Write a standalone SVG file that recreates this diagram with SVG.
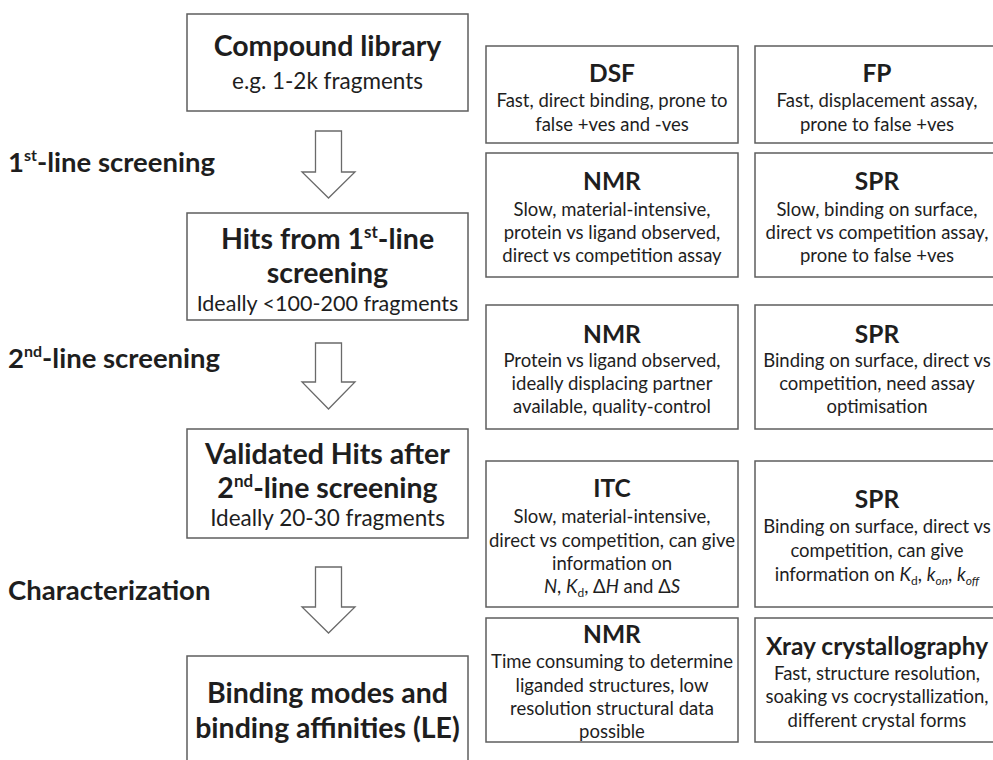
<svg xmlns="http://www.w3.org/2000/svg" width="993" height="760" viewBox="0 0 993 760">
<style>
text{font-family:Lato,"Open Sans","Liberation Sans",sans-serif;fill:#1e1e1e;text-anchor:middle}
.box{fill:#fff;stroke:#5e5e5e;stroke-width:1.5}
.arrow{fill:#fff;stroke:#6a6a6a;stroke-width:1.3}
.lt{font-size:28.5px;font-weight:700}
.ls{font-size:22.5px}
.lab{font-size:27.5px;font-weight:700;text-anchor:start}
.rt{font-size:24.5px;font-weight:700}
.rb{font-size:18.5px}
.i{font-style:italic}
</style>
<rect width="993" height="760" fill="#fff"/>

<g id="labels">
<text class="lab" x="8" y="172">1<tspan font-size="16" dy="-11">st</tspan><tspan dy="11">-line screening</tspan></text>
<text class="lab" x="8" y="368">2<tspan font-size="16" dy="-11">nd</tspan><tspan dy="11">-line screening</tspan></text>
<text class="lab" x="8" y="600">Characterization</text>
</g>

<g id="connectors">
<polygon class="arrow" points="315.5,131 341.5,131 341.5,172 355,172 328.5,198 302,172 315.5,172"/>
<polygon class="arrow" points="315.5,343 341.5,343 341.5,382 355,382 328.5,409 302,382 315.5,382"/>
<polygon class="arrow" points="315.5,567 341.5,567 341.5,607 355,607 328.5,633 302,607 315.5,607"/>
</g>

<g id="compound-library">
<rect class="box" x="187" y="14" width="281" height="97"/>
<text class="lt" x="327.5" y="56">Compound library</text>
<text class="ls" x="327.5" y="89">e.g. 1-2k fragments</text>
</g>

<g id="hits">
<rect class="box" x="187" y="213" width="281" height="107"/>
<text class="lt" x="327.5" y="249">Hits from 1<tspan font-size="17" dy="-11">st</tspan><tspan dy="11">-line</tspan></text>
<text class="lt" x="327.5" y="283">screening</text>
<text class="ls" x="327.5" y="311" font-size="21.5" style="font-size:21.5px">Ideally &lt;100-200 fragments</text>
</g>

<g id="validated">
<rect class="box" x="187" y="429" width="281" height="109"/>
<text class="lt" x="327.5" y="464">Validated Hits after</text>
<text class="lt" x="327.5" y="498">2<tspan font-size="17" dy="-11">nd</tspan><tspan dy="11">-line screening</tspan></text>
<text class="ls" x="327.5" y="526">Ideally 20-30 fragments</text>
</g>

<g id="binding">
<rect class="box" x="187" y="656" width="281" height="110"/>
<text class="lt" x="327.5" y="703">Binding modes and</text>
<text class="lt" x="327.5" y="738">binding affinities (LE)</text>
</g>

<g id="dsf">
<rect class="box" x="486" y="46" width="252" height="97"/>
<text class="rt" x="612" y="82">DSF</text>
<text class="rb" x="612" y="107">Fast, direct binding, prone to</text>
<text class="rb" x="612" y="131">false +ves and -ves</text>
</g>

<g id="fp">
<rect class="box" x="755" y="46" width="245" height="97"/>
<text class="rt" x="877" y="82">FP</text>
<text class="rb" x="877" y="107">Fast, displacement assay,</text>
<text class="rb" x="877" y="131">prone to false +ves</text>
</g>

<g id="nmr1">
<rect class="box" x="486" y="153" width="252" height="124"/>
<text class="rt" x="612" y="190">NMR</text>
<text class="rb" x="612" y="216">Slow, material-intensive,</text>
<text class="rb" x="612" y="239">protein vs ligand observed,</text>
<text class="rb" x="612" y="262">direct vs competition assay</text>
</g>

<g id="spr1">
<rect class="box" x="755" y="153" width="245" height="124"/>
<text class="rt" x="877" y="190">SPR</text>
<text class="rb" x="877" y="216">Slow, binding on surface,</text>
<text class="rb" x="877" y="239">direct vs competition assay,</text>
<text class="rb" x="877" y="262">prone to false +ves</text>
</g>

<g id="nmr2">
<rect class="box" x="486" y="305" width="252" height="124"/>
<text class="rt" x="612" y="343">NMR</text>
<text class="rb" x="612" y="367">Protein vs ligand observed,</text>
<text class="rb" x="612" y="390">ideally displacing partner</text>
<text class="rb" x="612" y="413">available, quality-control</text>
</g>

<g id="spr2">
<rect class="box" x="755" y="305" width="245" height="124"/>
<text class="rt" x="877" y="343">SPR</text>
<text class="rb" x="877" y="367">Binding on surface, direct vs</text>
<text class="rb" x="877" y="390">competition, need assay</text>
<text class="rb" x="877" y="413">optimisation</text>
</g>

<g id="itc">
<rect class="box" x="486" y="461" width="252" height="146"/>
<text class="rt" x="612" y="497">ITC</text>
<text class="rb" x="612" y="523">Slow, material-intensive,</text>
<text class="rb" x="612" y="547">direct vs competition, can give</text>
<text class="rb" x="612" y="570">information on</text>
<text class="rb" x="612" y="593"><tspan class="i">N</tspan>, <tspan class="i">K</tspan><tspan font-size="12" dy="4">d</tspan><tspan dy="-4">, Δ</tspan><tspan class="i">H</tspan> and Δ<tspan class="i">S</tspan></text>
</g>

<g id="spr3">
<rect class="box" x="755" y="461" width="245" height="146"/>
<text class="rt" x="877" y="508">SPR</text>
<text class="rb" x="877" y="533">Binding on surface, direct vs</text>
<text class="rb" x="877" y="557">competition, can give</text>
<text class="rb" x="877" y="581">information on <tspan class="i">K</tspan><tspan font-size="12" dy="4">d</tspan><tspan dy="-4">, </tspan><tspan class="i">k</tspan><tspan class="i" font-size="12" dy="4">on</tspan><tspan dy="-4">, </tspan><tspan class="i">k</tspan><tspan class="i" font-size="12" dy="4">off</tspan></text>
</g>

<g id="nmr3">
<rect class="box" x="486" y="618" width="252" height="124"/>
<text class="rt" x="612" y="643">NMR</text>
<text class="rb" x="612" y="668">Time consuming to determine</text>
<text class="rb" x="612" y="692">liganded structures, low</text>
<text class="rb" x="612" y="715">resolution structural data</text>
<text class="rb" x="612" y="738">possible</text>
</g>

<g id="xray">
<rect class="box" x="755" y="618" width="245" height="124"/>
<text class="rt" x="877" y="655">Xray crystallography</text>
<text class="rb" x="877" y="680">Fast, structure resolution,</text>
<text class="rb" x="877" y="703">soaking vs cocrystallization,</text>
<text class="rb" x="877" y="727">different crystal forms</text>
</g>
</svg>
